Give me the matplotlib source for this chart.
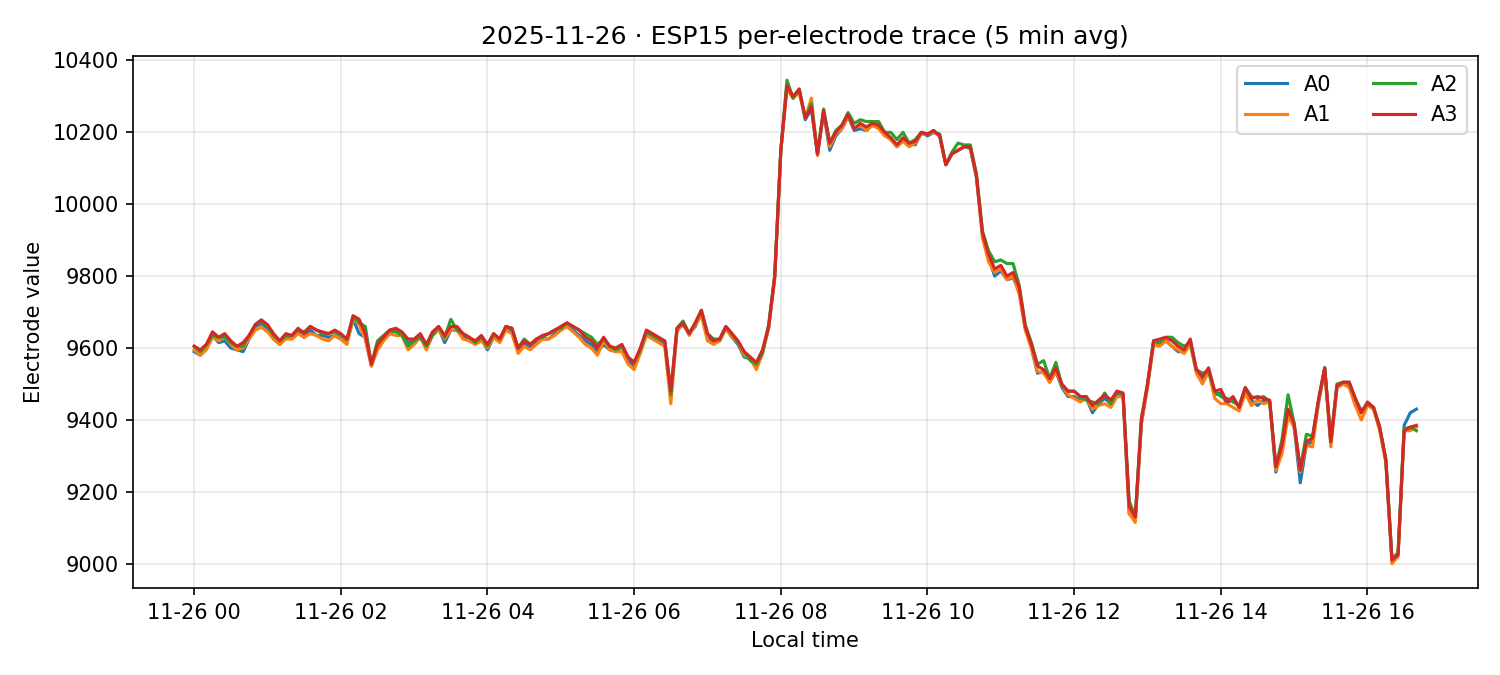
import numpy as np
import pandas as pd
import matplotlib
matplotlib.use("Agg")
import matplotlib.pyplot as plt
import matplotlib.dates as mdates

start = "2025-11-26 00:00"
n_points = 201

A3 = [9605, 9595, 9610, 9645, 9630, 9640, 9620, 9605, 9615, 9635, 9665, 9678, 9665, 9640, 9620, 9640, 9635, 9655, 9640, 9660, 9650, 9645, 9640, 9650,
      9640, 9625, 9690, 9680, 9640, 9555, 9610, 9630, 9650, 9655, 9645, 9625, 9625, 9640, 9610, 9645, 9660, 9635, 9660, 9660, 9640, 9630, 9620, 9635,
      9610, 9640, 9625, 9660, 9655, 9600, 9620, 9610, 9625, 9635, 9640, 9650, 9660, 9670, 9660, 9650, 9630, 9620, 9600, 9630, 9605, 9600, 9610, 9575,
      9560, 9600, 9650, 9640, 9630, 9620, 9480, 9655, 9670, 9640, 9670, 9705, 9640, 9620, 9625, 9660, 9640, 9620, 9590, 9575, 9560, 9595, 9660, 9800,
      10150, 10330, 10300, 10320, 10240, 10270, 10140, 10260, 10170, 10200, 10220, 10250, 10210, 10225, 10215, 10225, 10220, 10200, 10185, 10165, 10185, 10170, 10175, 10200,
      10195, 10205, 10190, 10110, 10140, 10150, 10160, 10160, 10080, 9920, 9860, 9820, 9830, 9800, 9810, 9770, 9660, 9610, 9550, 9540, 9515, 9545, 9500, 9480,
      9480, 9465, 9465, 9440, 9455, 9470, 9455, 9480, 9475, 9160, 9130, 9400, 9500, 9620, 9625, 9630, 9620, 9605, 9595, 9625, 9540, 9520, 9545, 9480,
      9485, 9450, 9465, 9435, 9490, 9460, 9465, 9460, 9455, 9270, 9330, 9430, 9390, 9260, 9340, 9350, 9460, 9545, 9340, 9495, 9505, 9505, 9460, 9420,
      9450, 9435, 9380, 9290, 9010, 9025, 9370, 9380, 9385]

d0 = [-15, -15, -10, -10, -15, -20, -20, -10, -25, -10, -5, -10, -10, -15, -10, -10, -5, -10, -10, -10, -15, -10, -10, -15,
      -15, -10, -10, -40, -10, -5, -5, -5, -10, -5, -5, -10, -5, -10, -5, -10, -5, -20, -10, -10, -10, -5, -5, -10,
      -15, -10, -5, -5, -10, -5, -5, -10, -10, -10, -15, -10, -10, -5, -10, -15, -10, -10, -10, -20, -10, -10, -5, -10,
      -10, -5, -10, -10, -10, -5, -15, -5, -5, 0, -10, -5, -10, -5, -5, -5, -10, -10, -15, -5, -10, -5, -5, 0,
      0, 0, -5, 0, -5, -5, 0, -5, -20, -10, -10, -5, -5, -15, -10, -5, -5, -5, -5, -5, -5, 0, -10, 0,
      -5, -5, 5, 0, 0, 0, 0, -5, -5, -5, -10, -20, -15, -10, -15, -10, -5, -10, -20, -5, -10, -10, -10, -15,
      -15, -10, -5, -20, -10, -10, -10, -5, -5, -20, -10, -10, -5, 0, -15, -10, -15, -15, -5, -5, -5, -15, -5, -10,
      -10, -5, -5, 0, -10, -5, -25, -5, -5, -15, -5, -10, -10, -35, -10, -10, -10, 0, -5, -5, -5, -5, -5, 0,
      -5, -5, -5, 0, 0, 0, 15, 40, 45]

d1 = [-10, -15, -15, -15, -10, -10, -10, -10, -15, -10, -15, -20, -20, -15, -10, -15, -10, -15, -10, -20, -15, -20, -20, -15,
      -15, -15, -10, -15, -15, -5, -15, -10, -10, -20, -10, -30, -15, -10, -15, -10, -10, -10, -10, -10, -15, -10, -10, -15,
      -10, -10, -10, -10, -15, -15, -15, -15, -15, -10, -15, -15, -10, -10, -15, -20, -20, -20, -20, -10, -10, -10, -20, -20,
      -20, -15, -15, -15, -15, -15, -35, -10, 0, -5, -5, -15, -20, -10, -5, -5, -10, -5, -10, -5, -20, -10, -5, -10,
      0, -10, -5, -10, 0, 25, -5, 0, -10, -5, -10, -5, 0, -5, -10, -5, -10, -10, -5, -5, -10, -10, -5, -5,
      0, -5, 0, 0, 0, 0, 0, 0, 0, -15, -20, -10, -10, -10, -10, -20, -10, -10, -15, -10, -10, -10, -5, -10,
      -20, -15, -5, -10, -15, -25, -20, -15, -10, -20, -15, -10, -10, -10, -20, -10, -15, -10, -10, -15, -10, -20, -10, -20,
      -40, -5, -30, -10, -15, -20, -10, -15, -5, -10, -25, -20, -10, -5, -10, -25, -10, -10, -15, -5, -5, -15, -20, -20,
      -10, -5, -10, -10, -10, -5, 0, -10, -5]

d2 = [0, -5, 0, -10, 0, -10, -5, 0, -10, 0, 0, 0, -5, -5, 0, -5, 0, -5, 5, 0, 0, -5, 0, -5,
      -5, 0, -5, -10, 20, 0, 10, 5, 0, -10, -10, -20, -5, -10, -5, -10, 0, -5, 20, -10, 0, 0, -5, -5,
      -5, 0, 0, 0, 0, 0, 5, 0, 0, -5, 0, 0, -5, 0, 0, 0, 10, 10, 10, -5, 0, -5, -5, 0,
      0, -5, -5, -5, -5, 0, -10, 0, 5, 0, 0, 0, 0, 5, 0, 0, 0, -5, 0, -10, -5, -10, 5, 0,
      0, 15, -5, 0, 0, 10, 0, 5, 0, 5, 0, 5, 15, 10, 15, 5, 10, 0, 15, 15, 15, 0, 5, 0,
      0, 0, 0, 0, 5, 20, 5, 5, 5, 5, 10, 20, 15, 35, 25, 5, 5, 5, 5, 25, 0, 15, -5, 0,
      0, 0, -10, 10, -10, 5, -10, 0, -5, 15, 0, 5, 0, 0, -10, 0, 10, 10, 10, -10, 0, 10, -10, 0,
      -20, 10, -15, 5, 0, 5, -5, 5, -5, 0, 15, 40, 0, 5, 20, 5, -5, 0, 0, 5, 0, 0, 0, 5,
      -5, 0, 0, 0, 5, 5, 5, 0, -15]

A0 = [a + b for a, b in zip(A3, d0)]
A1 = [a + b for a, b in zip(A3, d1)]
A2 = [a + b for a, b in zip(A3, d2)]

t = pd.date_range(start, periods=n_points, freq="5min")

fig, ax = plt.subplots(figsize=(10, 4.5), dpi=150)
for name, vals, c in [("A0", A0, "#1f77b4"), ("A1", A1, "#ff7f0e"), ("A2", A2, "#2ca02c"), ("A3", A3, "#d62728")]:
    ax.plot(t, vals, color=c, lw=1.5, label=name)

ax.xaxis.set_major_locator(mdates.HourLocator(interval=2))
ax.xaxis.set_major_formatter(mdates.DateFormatter("%m-%d %H"))
ax.set_yticks(range(9000, 10401, 200))
ax.grid(True, alpha=0.3)
ax.set_xlabel("Local time")
ax.set_ylabel("Electrode value")
ax.set_title("2025-11-26 · ESP15 per-electrode trace (5 min avg)")
ax.legend(ncol=2, loc="upper right")
fig.subplots_adjust(left=0.0887, right=0.985, top=0.917, bottom=0.129)
fig.savefig("out.png")
